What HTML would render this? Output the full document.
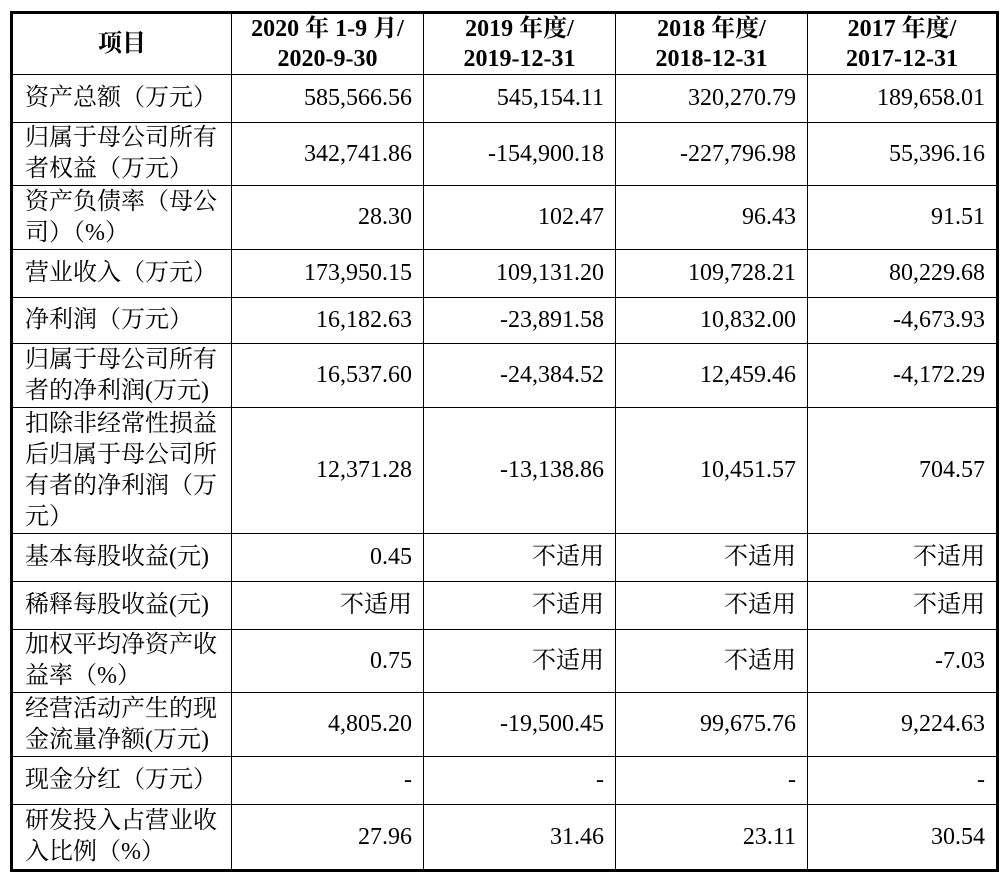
<!DOCTYPE html>
<html><head><meta charset="utf-8"><style>
body{margin:0;background:#fff;width:1008px;height:876px;overflow:hidden}
table{position:absolute;left:10px;top:11px;border-collapse:collapse;border:3px solid #000;table-layout:fixed;font-family:"Liberation Serif","Noto Serif CJK SC",serif;font-size:24px;color:#000}
td,th{border:1.5px solid #000;padding:0 11px 0 11px;line-height:31px}
th{font-weight:bold;text-align:center;font-size:24px;line-height:30px;padding:0}
td.l{text-align:left;padding-left:12px;padding-right:2px;letter-spacing:0}
td.n{text-align:right}
</style></head><body>
<table>
<colgroup><col style="width:220px"><col style="width:192px"><col style="width:192px"><col style="width:192px"><col style="width:190px"></colgroup>
<tr style="height:61px"><th>项目</th><th>2020 年 1-9 月/<br>2020-9-30</th><th>2019 年度/<br>2019-12-31</th><th>2018 年度/<br>2018-12-31</th><th>2017 年度/<br>2017-12-31</th></tr>
<tr style="height:48px"><td class="l">资产总额（万元）</td><td class="n">585,566.56</td><td class="n">545,154.11</td><td class="n">320,270.79</td><td class="n">189,658.01</td></tr>
<tr style="height:63px"><td class="l">归属于母公司所有者权益（万元）</td><td class="n">342,741.86</td><td class="n">-154,900.18</td><td class="n">-227,796.98</td><td class="n">55,396.16</td></tr>
<tr style="height:64px"><td class="l">资产负债率（母公司）（%）</td><td class="n">28.30</td><td class="n">102.47</td><td class="n">96.43</td><td class="n">91.51</td></tr>
<tr style="height:48px"><td class="l">营业收入（万元）</td><td class="n">173,950.15</td><td class="n">109,131.20</td><td class="n">109,728.21</td><td class="n">80,229.68</td></tr>
<tr style="height:46px"><td class="l">净利润（万元）</td><td class="n">16,182.63</td><td class="n">-23,891.58</td><td class="n">10,832.00</td><td class="n">-4,673.93</td></tr>
<tr style="height:64px"><td class="l">归属于母公司所有者的净利润(万元)</td><td class="n">16,537.60</td><td class="n">-24,384.52</td><td class="n">12,459.46</td><td class="n">-4,172.29</td></tr>
<tr style="height:126px"><td class="l">扣除非经常性损益后归属于母公司所有者的净利润（万元）</td><td class="n">12,371.28</td><td class="n">-13,138.86</td><td class="n">10,451.57</td><td class="n">704.57</td></tr>
<tr style="height:48px"><td class="l">基本每股收益(元)</td><td class="n">0.45</td><td class="n">不适用</td><td class="n">不适用</td><td class="n">不适用</td></tr>
<tr style="height:48px"><td class="l">稀释每股收益(元)</td><td class="n">不适用</td><td class="n">不适用</td><td class="n">不适用</td><td class="n">不适用</td></tr>
<tr style="height:60px"><td class="l">加权平均净资产收益率（%）</td><td class="n">0.75</td><td class="n">不适用</td><td class="n">不适用</td><td class="n">-7.03</td></tr>
<tr style="height:64px"><td class="l">经营活动产生的现金流量净额(万元)</td><td class="n">4,805.20</td><td class="n">-19,500.45</td><td class="n">99,675.76</td><td class="n">9,224.63</td></tr>
<tr style="height:48px"><td class="l">现金分红（万元）</td><td class="n">-</td><td class="n">-</td><td class="n">-</td><td class="n">-</td></tr>
<tr style="height:66px"><td class="l">研发投入占营业收入比例（%）</td><td class="n">27.96</td><td class="n">31.46</td><td class="n">23.11</td><td class="n">30.54</td></tr>
</table>
</body></html>
